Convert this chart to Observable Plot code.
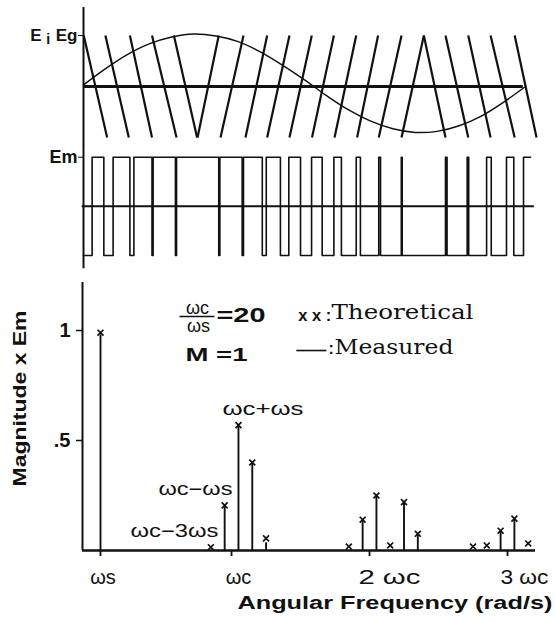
<!DOCTYPE html>
<html><head><meta charset="utf-8">
<script src="https://cdn.jsdelivr.net/npm/d3@7"></script>
<script src="https://cdn.jsdelivr.net/npm/@observablehq/plot@0.6"></script>
<style>
body{margin:0;background:#fff;}
#chart{position:relative;width:555px;height:622px;background:#fff;overflow:hidden;}
#chart svg{position:absolute;left:0;overflow:visible;}
</style></head><body><div id="chart"></div>
<script>
// ---------- DATA ----------
// time axis of the two waveform panels, in carrier periods (one sine period = 20)
const sineT      = [0,1,2,3,4,5,6,7,8,9,10,11,12,13,14,15,16,17,18,19,20];
const sineValues = [0.03,0.35,0.63,0.84,0.97,1.03,0.99,0.88,0.68,0.42,0.13,-0.18,-0.46,-0.68,-0.83,-0.90,-0.88,-0.77,-0.58,-0.31,0.0];
// carrier strokes: time where each stroke touches +1 (top) and -1 (bottom)
const carrierTopT    = [0.01,0.99,2.10,3.10,4.09, 6.12,7.24,8.31,9.32,10.33,11.33,12.34,13.33,14.39,15.40, 15.40,16.38,17.41,18.42,19.51];
const carrierBottomT = [1.07,2.05,3.10,4.21,5.14, 5.16,6.20,7.33,8.31,9.32,10.34,11.36,12.38,13.36,14.39, 16.38,17.41,18.42,19.51,20.50];
// PWM output: switching instants (level toggles at each), starting low
const pwmStartLevel = -1;
const pwmEdgesT = [0.39,0.92,1.34,2.10,2.28,3.10,3.15,4.16,4.21,6.12,6.17,7.18,7.24,8.09,8.27,8.91,9.29,9.82,10.32,10.80,11.33,11.67,12.34,12.53,13.36,13.44,14.38,14.42,16.38,16.45,17.36,17.43,18.24,18.45,19.14,19.47,19.91];
const pwmEndT = 20.23;
// spectrum: harmonic order (multiples of ωs), theoretical (x) and measured (stem)
const harmonicN   = [1, 17, 19, 21, 23, 25, 37, 39, 41, 43, 45, 47, 55, 57, 59, 61, 63];
const theoretical = [0.99,0.015,0.205,0.57,0.40,0.055,0.018,0.14,0.25,0.023,0.22,0.076,0.018,0.023,0.09,0.145,0.032];
const measured    = [0.98,0,0.20,0.565,0.395,0.035,0,0.135,0.245,0,0.215,0.07,0,0,0.085,0.14,0];
const xTickValues = [1, 20, 40, 60];
const xTickLabels = ["ωs", "ωc", "2 ωc", "3 ωc"];
const yTickValues = [0.5, 1];
const yTickLabels = [".5", "1"];

// ---------- DRAW ----------
const ink = "#111";
const sans = "'Liberation Sans', Arial, Helvetica, sans-serif";
const serif = "'DejaVu Serif', 'Liberation Serif', serif";
const chart = document.getElementById("chart");

const sineData = sineT.map((t, i) => ({t, v: sineValues[i]}));
const carrierData = carrierTopT.map((t, i) => ({t1: t, t2: carrierBottomT[i]}));
const pwmData = [{t: 0, v: pwmStartLevel}];
{ let lv = pwmStartLevel; for (const e of pwmEdgesT) { lv = -lv; pwmData.push({t: e, v: lv}); } pwmData.push({t: pwmEndT, v: lv}); }
const spec = harmonicN.map((n, i) => ({n, th: theoretical[i], me: measured[i]}));

// Panel 1: reference sine + carrier
const p1 = Plot.plot({
  width: 555, height: 145, marginLeft: 83, marginRight: 30, marginTop: 35, marginBottom: 8,
  x: {domain: [0, 20], axis: null},
  y: {domain: [-1, 1], axis: null},
  style: {fontFamily: sans, background: "transparent", overflow: "visible", color: ink},
  marks: [
    Plot.ruleX([0], {y1: 1.55, y2: -1.16, stroke: ink, strokeWidth: 2}),
    Plot.ruleY([0], {x1: 0, x2: 19.9, stroke: ink, strokeWidth: 3}),
    Plot.link(carrierData, {x1: "t1", y1: 1, x2: "t2", y2: -1, stroke: ink, strokeWidth: 2.2}),
    Plot.line(sineData, {x: "t", y: "v", curve: "catmull-rom", stroke: ink, strokeWidth: 1.5}),
    Plot.axisY({ticks: [1], label: null, tickSize: 5, tickPadding: 1, tickFormat: () => "Eg", fontSize: 17, fontWeight: "bold", stroke: ink}),
    Plot.text(["E"], {x: -2.15, y: 1, fontSize: 17, fontWeight: "bold", fill: ink}),
    Plot.text(["i"], {x: -1.6, y: 1, dy: 4, fontSize: 14, fontWeight: "bold", fill: ink})
  ]
});
p1.style.top = "0px";
chart.appendChild(p1);

// Panel 2: PWM output
const p2 = Plot.plot({
  width: 555, height: 125, marginLeft: 83, marginRight: 30, marginTop: 11.7, marginBottom: 15,
  x: {domain: [0, 20], axis: null},
  y: {domain: [-1, 1], axis: null},
  style: {fontFamily: sans, background: "transparent", overflow: "visible", color: ink},
  marks: [
    Plot.ruleX([0], {y1: 1.24, y2: -1.27, stroke: ink, strokeWidth: 2}),
    Plot.ruleY([0], {x1: -0.06, x2: 20.4, stroke: ink, strokeWidth: 2}),
    Plot.line(pwmData, {x: "t", y: "v", curve: "step-after", stroke: ink, strokeWidth: 1.6}),
    Plot.axisY({ticks: [1], label: null, tickSize: 5, tickPadding: 1, tickFormat: () => "Em", fontSize: 18, fontWeight: "bold", stroke: ink})
  ]
});
p2.style.top = "145px";
chart.appendChild(p2);

// Panel 3: spectrum
const p3 = Plot.plot({
  width: 555, height: 352, marginLeft: 82, marginRight: 20, marginTop: 12, marginBottom: 72,
  x: {domain: [-1.61, 64.06], axis: null},
  y: {domain: [0, 1.2182], axis: null},
  style: {fontFamily: sans, background: "transparent", overflow: "visible", color: ink},
  marks: [
    Plot.ruleX([-1.61], {y1: 0, y2: 1.2182, stroke: ink, strokeWidth: 2}),
    Plot.ruleY([0], {x1: -1.61, x2: 64.06, stroke: ink, strokeWidth: 2.6}),
    Plot.ruleX(spec.filter(d => d.me > 0), {x: "n", y1: 0, y2: "me", stroke: ink, strokeWidth: 1.9}),
    Plot.dot(spec, {x: "n", y: "th", symbol: "times", r: 2.8, stroke: ink, strokeWidth: 1.7}),
    Plot.axisY({ticks: yTickValues, label: null, tickFormat: d => yTickLabels[yTickValues.indexOf(d)], tickSize: 6, tickPadding: 6, fontSize: 20, fontWeight: "bold", stroke: ink, strokeWidth: 1.5}),
    Plot.axisX({ticks: xTickValues, label: null, tickFormat: () => "", tickSize: 6, stroke: ink, strokeWidth: 1.8}),
    Plot.text([xTickLabels[0]], {x: 1.36, y: 0, dy: 27, fontSize: 20, fill: ink}),
    Plot.text([xTickLabels[1]], {x: 21.0, y: 0, dy: 27, fontSize: 20, fill: ink}),
    Plot.text([xTickLabels[2]], {x: 42.88, y: 0, dy: 27, fontSize: 20, fill: ink}),
    Plot.text([xTickLabels[3]], {x: 62.45, y: 0, dy: 27, fontSize: 20, fill: ink}),
    Plot.text(["Angular Frequency (rad/s)"], {x: 43.68, y: -0.241, fontSize: 18, fontWeight: "bold", fill: ink}),
    Plot.text(["Magnitude x Em"], {x: -10.67, y: 0.691, rotate: -90, fontSize: 19, fontWeight: "bold", fill: ink}),
    // ratio / modulation index
    Plot.text(["ωc"], {x: 15.06, y: 1.10, fontSize: 18, fill: ink}),
    Plot.link([0], {x1: 12.45, x2: 17.52, y1: 1.064, y2: 1.064, stroke: ink, strokeWidth: 1.5}),
    Plot.text(["ωs"], {x: 15.2, y: 1.018, fontSize: 18, fill: ink}),
    Plot.text(["=20"], {x: 17.81, y: 1.068, textAnchor: "start", fontSize: 21, fontWeight: "bold", fill: ink}),
    Plot.text(["M =1"], {x: 13.32, y: 0.891, textAnchor: "start", fontSize: 19, fontWeight: "bold", fill: ink}),
    // legend
    Plot.text(["x x :"], {x: 29.68, y: 1.068, textAnchor: "start", fontSize: 16, fontWeight: "bold", fill: ink}),
    Plot.text(["Theoretical"], {x: 34.48, y: 1.082, textAnchor: "start", fontSize: 21, fontFamily: serif, fill: ink}),
    Plot.link([0], {x1: 29.39, x2: 33.74, y1: 0.909, y2: 0.909, stroke: ink, strokeWidth: 1.6}),
    Plot.text([":"], {x: 34.04, y: 0.918, textAnchor: "start", fontSize: 16, fontWeight: "bold", fill: ink}),
    Plot.text(["Measured"], {x: 34.91, y: 0.923, textAnchor: "start", fontSize: 21, fontFamily: serif, fill: ink}),
    // annotations
    Plot.text(["ωc+ωs"], {x: 24.55, y: 0.641, fontSize: 18, fill: ink}),
    Plot.text(["ωc−ωs"], {x: 14.77, y: 0.277, fontSize: 18, fill: ink}),
    Plot.text(["ωc−3ωs"], {x: 11.72, y: 0.086, fontSize: 18, fill: ink})
  ]
});
p3.style.top = "270px";
chart.appendChild(p3);

function fit(svg, txt, len) {
  d3.select(svg).selectAll("text").filter(function() { return this.textContent === txt; })
    .attr("textLength", len).attr("lengthAdjust", "spacingAndGlyphs");
}
function bold(svg, txts) {
  d3.select(svg).selectAll("text").filter(function() { return txts.includes(this.textContent); })
    .attr("font-weight", "bold").style("font-weight", "bold");
}
bold(p1, ["Eg"]); bold(p2, ["Em"]); bold(p3, yTickLabels);
fit(p3, "Angular Frequency (rad/s)", 315);
fit(p3, "Magnitude x Em", 176);
fit(p3, "Theoretical", 142);
fit(p3, "Measured", 119);
fit(p3, "ωc+ωs", 81);
fit(p3, "ωc−ωs", 74);
fit(p3, "ωc−3ωs", 88);
fit(p3, "2 ωc", 62);
fit(p3, "3 ωc", 48);
fit(p3, "=20", 49);
fit(p3, "M =1", 62);
fit(p3, "x x :", 33);
</script></body></html>
